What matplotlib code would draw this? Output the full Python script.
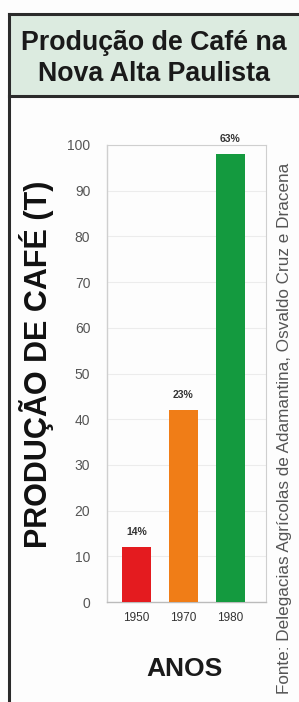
import matplotlib.pyplot as plt
from matplotlib.patches import Rectangle
from matplotlib.lines import Line2D

plt.rcParams['font.family'] = ['Liberation Sans', 'DejaVu Sans']

anos = ['1950', '1970', '1980']
producao = [12, 42, 98]
percentuais = ['14%', '23%', '63%']
cores = ['#e41b1f', '#f07d17', '#149a3f']
yticks = [0, 10, 20, 30, 40, 50, 60, 70, 80, 90, 100]

W, H = 299, 702
fig = plt.figure(figsize=(W / 100, H / 100), dpi=100)
fig.patch.set_facecolor('#fdfdfd')

# title box and outer frame lines
fig.add_artist(Rectangle((9 / W, 1 - 96 / H), 1, 82 / H, transform=fig.transFigure,
                         facecolor='#dcebe0', edgecolor='none'))
for xs, ys in [([9, W], [14, 14]), ([9, W], [96, 96]), ([9, 9], [14, H])]:
    fig.add_artist(Line2D([x / W for x in xs], [1 - y / H for y in ys],
                          transform=fig.transFigure, color='#2b2b2b', lw=2.2))

fig.text(154 / W, 1 - 43 / H, 'Produção de Café na', ha='center', va='center',
         fontsize=19.3, fontweight='bold', color='#1a1a1a')
fig.text(154 / W, 1 - 74 / H, 'Nova Alta Paulista', ha='center', va='center',
         fontsize=19.3, fontweight='bold', color='#1a1a1a')

ax = fig.add_axes([107 / W, 1 - 602 / H, (266 - 107) / W, (602 - 145) / H])
ax.set_facecolor('#fdfdfd')
x = list(range(len(anos)))
bars = ax.bar(x, producao, width=0.62, color=cores, zorder=3)
ax.set_xlim(-0.63, 2.76)
ax.set_ylim(0, 100)

for b, p in zip(bars, percentuais):
    ax.text(b.get_x() + b.get_width() / 2, b.get_height() + 2.2, p, ha='center', va='bottom',
            fontsize=7.5, fontweight='bold', color='#333333', zorder=4)

ax.set_yticks(yticks)
ax.set_yticklabels([str(v) for v in yticks], fontsize=10, color='#555555')
ax.set_xticks(x)
ax.set_xticklabels(anos, fontsize=8.5, color='#333333')
ax.tick_params(axis='y', length=0, pad=12)
ax.tick_params(axis='x', length=0, pad=7)
ax.grid(axis='y', color='#ececec', lw=0.8, zorder=0)

for side in ['top', 'right']:
    ax.spines[side].set_color('#cfcfcf')
    ax.spines[side].set_linewidth(0.8)
ax.spines['left'].set_color('#cfcfcf')
ax.spines['left'].set_linewidth(1.0)
ax.spines['bottom'].set_color('#bbbbbb')
ax.spines['bottom'].set_linewidth(1.0)

fig.text(37 / W, 1 - 364 / H, 'PRODUÇÃO DE CAFÉ (T)', rotation=90, ha='center', va='center',
         fontsize=22, fontweight='bold', color='#111111')
fig.text(184 / W, 1 - 669 / H, 'ANOS', ha='center', va='center',
         fontsize=19, fontweight='bold', color='#1a1a1a')

fig.text(285 / W, 1 - 428 / H, 'Fonte: Delegacias Agrícolas de Adamantina, Osvaldo Cruz e Dracena',
         rotation=90, ha='center', va='center', fontsize=12.3, color='#555555')

fig.savefig('out.png', dpi=100)
